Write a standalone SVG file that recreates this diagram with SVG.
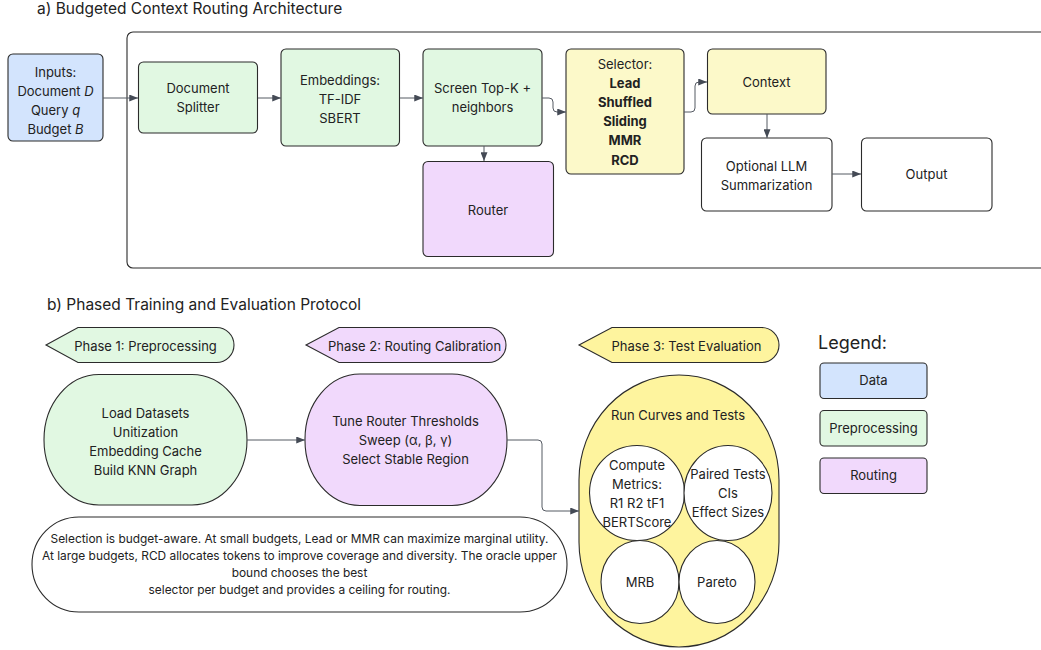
<svg xmlns="http://www.w3.org/2000/svg" width="1041" height="650" viewBox="0 0 1041 650">
<defs>
<style>
text{font-family:Inter,"Noto Sans","Liberation Sans",sans-serif;fill:#222;}
.t{font-size:13px;text-anchor:middle;}
.b{font-weight:bold;}
.title{font-size:15.5px;}
.n{stroke:#2b2b2b;stroke-width:1.1;}
.data{fill:#d3e4fd;}
.pre{fill:#e1f8e2;}
.rout{fill:#f1d9fc;}
.sel{fill:#fcf9c9;}
.ph3{fill:#fef49e;}
.w{fill:#ffffff;}
.c{fill:none;stroke:#555a63;stroke-width:1;}
.note{font-size:11.9px;text-anchor:middle;}
</style>
<marker id="ah" viewBox="0 0 10 8" refX="10" refY="4" markerWidth="9" markerHeight="7" markerUnits="userSpaceOnUse" orient="auto">
<path d="M0,0 L10,4 L0,8 Z" fill="#444a55"/>
</marker>
</defs>
<rect width="1041" height="650" fill="#ffffff"/>

<text class="title" x="37" y="14">a) Budgeted Context Routing Architecture</text>
<rect id="container" x="127" y="32" width="930" height="236" rx="6" fill="none" stroke="#2b2b2b" stroke-width="1.1"/>

<g id="inputs">
<rect class="n data" x="8" y="54" width="95" height="87" rx="5"/>
<text class="t" x="55.5" y="77">Inputs:</text>
<text class="t" x="55.5" y="96">Document <tspan font-style="italic">D</tspan></text>
<text class="t" x="55.5" y="115">Query <tspan font-style="italic">q</tspan></text>
<text class="t" x="55.5" y="134">Budget <tspan font-style="italic">B</tspan></text>
</g>
<g id="splitter">
<rect class="n pre" x="138.5" y="62" width="119" height="71" rx="5"/>
<text class="t" x="198" y="93">Document</text>
<text class="t" x="198" y="112">Splitter</text>
</g>
<g id="embeddings">
<rect class="n pre" x="281" y="49" width="118.5" height="97" rx="5"/>
<text class="t" x="340" y="84.5">Embeddings:</text>
<text class="t" x="340" y="103.5">TF-IDF</text>
<text class="t" x="340" y="122.5">SBERT</text>
</g>
<g id="screen">
<rect class="n pre" x="423" y="49" width="119" height="97" rx="5"/>
<text class="t" x="482.5" y="93">Screen Top-K +</text>
<text class="t" x="482.5" y="112">neighbors</text>
</g>
<g id="router">
<rect class="n rout" x="423" y="161.5" width="130.5" height="95" rx="5"/>
<text class="t" x="488" y="214.5">Router</text>
</g>
<g id="selector">
<rect class="n sel" x="566" y="49" width="118" height="125" rx="5"/>
<text class="t" x="625" y="69">Selector:</text>
<text class="t b" x="625" y="88">Lead</text>
<text class="t b" x="625" y="107">Shuffled</text>
<text class="t b" x="625" y="126">Sliding</text>
<text class="t b" x="625" y="145">MMR</text>
<text class="t b" x="625" y="164.5">RCD</text>
</g>
<g id="context">
<rect class="n sel" x="707.5" y="49" width="118.5" height="65" rx="5"/>
<text class="t" x="766.5" y="86.5">Context</text>
</g>
<g id="llm">
<rect class="n w" x="701.5" y="138" width="130.5" height="73" rx="5"/>
<text class="t" x="766.5" y="171">Optional LLM</text>
<text class="t" x="766.5" y="190">Summarization</text>
</g>
<g id="output">
<rect class="n w" x="861.5" y="138" width="130.5" height="73" rx="5"/>
<text class="t" x="926.5" y="179">Output</text>
</g>

<text class="title" x="47" y="310">b) Phased Training and Evaluation Protocol</text>

<g id="phase1-tag">
<path class="n pre" d="M46,345 L78,327.5 H216.5 A17.5,17.5 0 0 1 216.5,362.5 H78 Z"/>
<text class="t" x="145.5" y="350.5">Phase 1: Preprocessing</text>
</g>
<g id="phase2-tag">
<path class="n rout" d="M306,345 L339,327.5 H488.5 A17.5,17.5 0 0 1 488.5,362.5 H339 Z"/>
<text class="t" x="414.5" y="350.5">Phase 2: Routing Calibration</text>
</g>
<g id="phase3-tag">
<path class="n ph3" d="M579,345 L612,327.5 H761.5 A17.5,17.5 0 0 1 761.5,362.5 H612 Z"/>
<text class="t" x="686.5" y="350.5">Phase 3: Test Evaluation</text>
</g>

<g id="phase1">
<rect class="n pre" x="44" y="374.5" width="203" height="130.5" rx="55" ry="65"/>
<text class="t" x="145.5" y="418">Load Datasets</text>
<text class="t" x="145.5" y="437">Unitization</text>
<text class="t" x="145.5" y="456">Embedding Cache</text>
<text class="t" x="145.5" y="475">Build KNN Graph</text>
</g>
<g id="phase2">
<rect class="n rout" x="305" y="374" width="202" height="131.5" rx="55" ry="65"/>
<text class="t" x="405.5" y="425.5">Tune Router Thresholds</text>
<text class="t" x="405.5" y="444.5">Sweep (α, β, γ)</text>
<text class="t" x="405.5" y="463.5">Select Stable Region</text>
</g>
<g id="phase3">
<rect class="n ph3" x="579" y="375" width="200" height="272" rx="100" ry="105"/>
<text class="t" x="678" y="419.5">Run Curves and Tests</text>
</g>
<g id="metrics">
<ellipse class="n w" cx="637" cy="493" rx="47.5" ry="47.5"/>
<text class="t" x="637" y="469.5">Compute</text>
<text class="t" x="637" y="488.5">Metrics:</text>
<text class="t" x="637" y="507.5">R1 R2 tF1</text>
<text class="t" x="637" y="526.5">BERTScore</text>
</g>
<g id="paired">
<ellipse class="n w" cx="728" cy="493" rx="44" ry="47.5"/>
<text class="t" x="728" y="478.5">Paired Tests</text>
<text class="t" x="728" y="497.5">CIs</text>
<text class="t" x="728" y="516.5">Effect Sizes</text>
</g>
<g id="mrb">
<ellipse class="n w" cx="640" cy="582" rx="39" ry="41.5"/>
<text class="t" x="640" y="586.5">MRB</text>
</g>
<g id="pareto">
<ellipse class="n w" cx="717" cy="582" rx="38" ry="41.5"/>
<text class="t" x="717" y="586.5">Pareto</text>
</g>

<g id="note">
<rect class="n w" x="32" y="517" width="535" height="95" rx="47" ry="47.5"/>
<text class="note" x="299.5" y="543">Selection is budget-aware. At small budgets, Lead or MMR can maximize marginal utility.</text>
<text class="note" x="299.5" y="560">At large budgets, RCD allocates tokens to improve coverage and diversity. The oracle upper</text>
<text class="note" x="299.5" y="577">bound chooses the best</text>
<text class="note" x="299.5" y="594">selector per budget and provides a ceiling for routing.</text>
</g>

<g id="legend">
<text x="818" y="349" font-size="18px">Legend:</text>
<rect class="n data" x="820" y="363" width="107" height="35.5" rx="4"/>
<text class="t" x="873.5" y="385">Data</text>
<rect class="n pre" x="820" y="410.5" width="107" height="35.5" rx="4"/>
<text class="t" x="873.5" y="432.5">Preprocessing</text>
<rect class="n rout" x="820" y="458" width="107" height="35.5" rx="4"/>
<text class="t" x="873.5" y="480">Routing</text>
</g>

<g id="connectors">
<path class="c" marker-end="url(#ah)" d="M103,98 H138"/>
<path class="c" marker-end="url(#ah)" d="M258,98 H281"/>
<path class="c" marker-end="url(#ah)" d="M400,98 H423"/>
<path class="c" marker-end="url(#ah)" d="M542,98 H549 Q553,98 553,102 V108 Q553,112 557,112 H566"/>
<path class="c" marker-end="url(#ah)" d="M484,146 V161"/>
<path class="c" marker-end="url(#ah)" d="M684,112 H691 Q695,112 695,108 V86 Q695,82 699,82 H707"/>
<path class="c" marker-end="url(#ah)" d="M767,114 V138"/>
<path class="c" marker-end="url(#ah)" d="M832,174 H861"/>
<path class="c" marker-end="url(#ah)" d="M247,440 H305"/>
<path class="c" marker-end="url(#ah)" d="M507,440 H538 Q542,440 542,444 V507 Q542,511 546,511 H579"/>
</g>
</svg>
